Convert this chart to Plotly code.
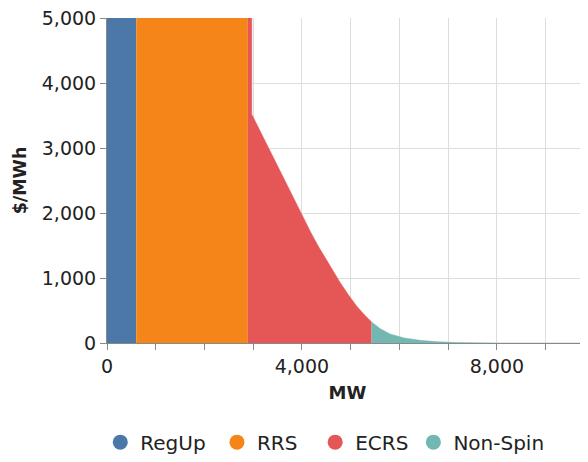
import plotly.graph_objects as go

# Data
series = ["RegUp", "RRS", "ECRS", "Non-Spin"]
colors = ["#4c78a8", "#f58518", "#e45756", "#72b7b2"]
legend_pad = [1, 2, 0, 0]  # extra non-breaking spaces after the legend label

regup_mw = [0, 600]
regup_price = [5000, 5000]

rrs_mw = [600, 2890]
rrs_price = [5000, 5000]

ecrs_mw = [2890, 2970, 2970, 3300, 3650, 4000, 4180, 4336, 4560, 4780, 4950, 5121, 5280, 5430]
ecrs_price = [5000, 5000, 3520, 3020, 2490, 1960, 1705, 1490, 1200, 935, 745, 570, 435, 325]

nonspin_mw = [5430, 5600, 5805, 6100, 6420, 6800, 7200, 7600, 8000, 9870]
nonspin_price = [325, 225, 140, 78, 42, 18, 7, 2, 0, 0]

x_ticks = [0, 1000, 2000, 3000, 4000, 5000, 6000, 7000, 8000, 9000]
x_ticktext = ["0", "", "", "", "4,000", "", "", "", "8,000", ""]
y_ticks = [0, 1000, 2000, 3000, 4000, 5000]

font_family = "DejaVu Sans, Verdana, sans-serif"

fig = go.Figure()
data = [(regup_mw, regup_price), (rrs_mw, rrs_price), (ecrs_mw, ecrs_price), (nonspin_mw, nonspin_price)]
for name, color, (xs, ys) in zip(series, colors, data):
    fig.add_trace(go.Scatter(
        x=xs, y=ys, mode="lines", fill="tozeroy",
        line=dict(color=color, width=0.5, shape="linear"),
        fillcolor=color, showlegend=False, hoverinfo="skip", name=name,
    ))
# legend entries with circle symbols
for name, color, pad in zip(series, colors, legend_pad):
    fig.add_trace(go.Scatter(
        x=[None], y=[None], mode="markers", name=name + "\u00a0" * pad,
        marker=dict(symbol="circle", size=15, color=color),
        showlegend=True,
    ))

fig.update_layout(
    width=580, height=454,
    margin=dict(l=99, r=0, t=10, b=119),
    paper_bgcolor="white", plot_bgcolor="white",
    font=dict(family=font_family, size=19, color="#222"),
    legend=dict(orientation="h", x=-0.014, xanchor="left", y=-0.305, yanchor="middle",
                font=dict(size=20, color="#222"), tracegroupgap=0),
    xaxis=dict(
        range=[0, 9870], tickvals=x_ticks, ticktext=x_ticktext,
        showgrid=True, gridcolor="#dddddd", gridwidth=1,
        ticks="outside", ticklen=6, tickcolor="#888",
        showline=True, linecolor="#888", linewidth=1,
        zeroline=False, ticklabeloverflow="allow",
        title=dict(text="<b>MW</b>", font=dict(size=18, color="#222"), standoff=10),
    ),
    yaxis=dict(
        range=[0, 5000], tickvals=y_ticks, tickformat=",",
        showgrid=True, gridcolor="#dddddd", gridwidth=1,
        ticks="outside", ticklen=6, tickcolor="#888",
        showline=True, linecolor="#888", linewidth=1,
        zeroline=False, ticklabeloverflow="allow",
        title=dict(text="<b>$/MWh</b>", font=dict(size=17.5, color="#222"), standoff=10),
    ),
)

fig.write_html("out.html")
